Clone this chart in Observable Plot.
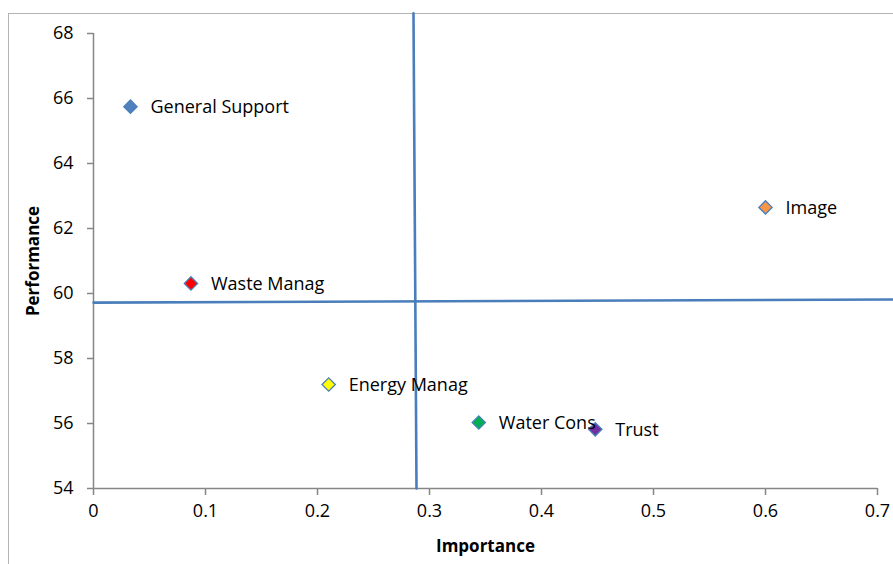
<!DOCTYPE html>
<html>
<head>
<meta charset="utf-8">
<script src="https://cdn.jsdelivr.net/npm/d3@7"></script>
<script src="https://cdn.jsdelivr.net/npm/@observablehq/plot@0.6"></script>
<style>
  html, body { margin: 0; padding: 0; background: #fff; }
  #wrap { position: relative; width: 893px; height: 564px; overflow: hidden; }
  #frame { position: absolute; left: 8px; top: 13px; width: 900px; height: 600px;
           border-left: 1.5px solid #b4b4b4; border-top: 1.5px solid #b4b4b4; }
  #chart { position: absolute; left: 0; top: 0; }
</style>
</head>
<body>
<div id="wrap"><div id="frame"></div><div id="chart"></div></div>
<script>
// Data
const names = ["General Support", "Waste Manag", "Energy Manag", "Water Cons", "Trust", "Image"];
const importance = [0.033, 0.087, 0.21, 0.344, 0.448, 0.6];
const performance = [65.75, 60.31, 57.2, 56.03, 55.82, 62.65];
const fills = ["#4f81bd", "#ff0000", "#ffff00", "#00b050", "#7030a0", "#f79646"];

// Quadrant divider lines (as drawn, slightly tilted)
const vLineX = [0.2857, 0.2884];
const vLineY = [68.62, 54];
const hLineX = [0, 0.714];
const hLineY = [59.72, 59.815];

const xTicks = [0, 0.1, 0.2, 0.3, 0.4, 0.5, 0.6, 0.7];
const yTicks = [54, 56, 58, 60, 62, 64, 66, 68];
const xDomain = [0, 0.7];
const yDomain = [54, 68];

const points = names.map((n, i) => ({name: n, x: importance[i], y: performance[i], fill: fills[i]}));
const vLine = vLineX.map((x, i) => ({x, y: vLineY[i]}));
const hLine = hLineX.map((x, i) => ({x, y: hLineY[i]}));

const axisColor = "#868686";
const font = "'Open Sans', sans-serif";

const chart = Plot.plot({
  width: 893,
  height: 564,
  marginLeft: 93,
  marginRight: 16,
  marginTop: 33,
  marginBottom: 76,
  style: {fontFamily: font, fontSize: "18px", color: "#000", background: "transparent", overflow: "visible"},
  x: {domain: xDomain},
  y: {domain: yDomain},
  marks: [
    Plot.axisX({ticks: xTicks, tickSize: 7, tickPadding: 9, stroke: axisColor, strokeWidth: 1.5,
      fill: "#000", fontSize: 18, tickFormat: d => String(d), label: null}),
    Plot.axisY({ticks: yTicks, tickSize: 6, tickPadding: 14, stroke: axisColor, strokeWidth: 1.5,
      fill: "#000", fontSize: 18, tickFormat: d => String(d), label: null}),
    Plot.ruleY([yDomain[0]], {stroke: axisColor, strokeWidth: 1.5}),
    Plot.ruleX([xDomain[0]], {stroke: axisColor, strokeWidth: 1.5}),
    Plot.line(vLine, {x: "x", y: "y", stroke: "#4a7ebb", strokeWidth: 2.6}),
    Plot.line(hLine, {x: "x", y: "y", stroke: "#4a7ebb", strokeWidth: 2.6}),
    Plot.dot(points, {x: "x", y: "y", symbol: "diamond2", r: 6, fill: d => d.fill, stroke: "#4a7ebb", strokeWidth: 1.3}),
    Plot.text(points, {x: "x", y: "y", text: "name", textAnchor: "start", dx: 20, dy: 1, fontSize: 18, fill: "#000"}),
    Plot.text(["Importance"], {frameAnchor: "bottom", textAnchor: "middle", dy: 63, text: d => d, fontWeight: "bold", fontSize: 17, fill: "#000"}),
    Plot.text(["Performance"], {frameAnchor: "left", textAnchor: "middle", dx: -60, rotate: -90, text: d => d, fontWeight: "bold", fontSize: 17, fill: "#000"})
  ]
});
document.getElementById("chart").appendChild(chart);
</script>
</body>
</html>
